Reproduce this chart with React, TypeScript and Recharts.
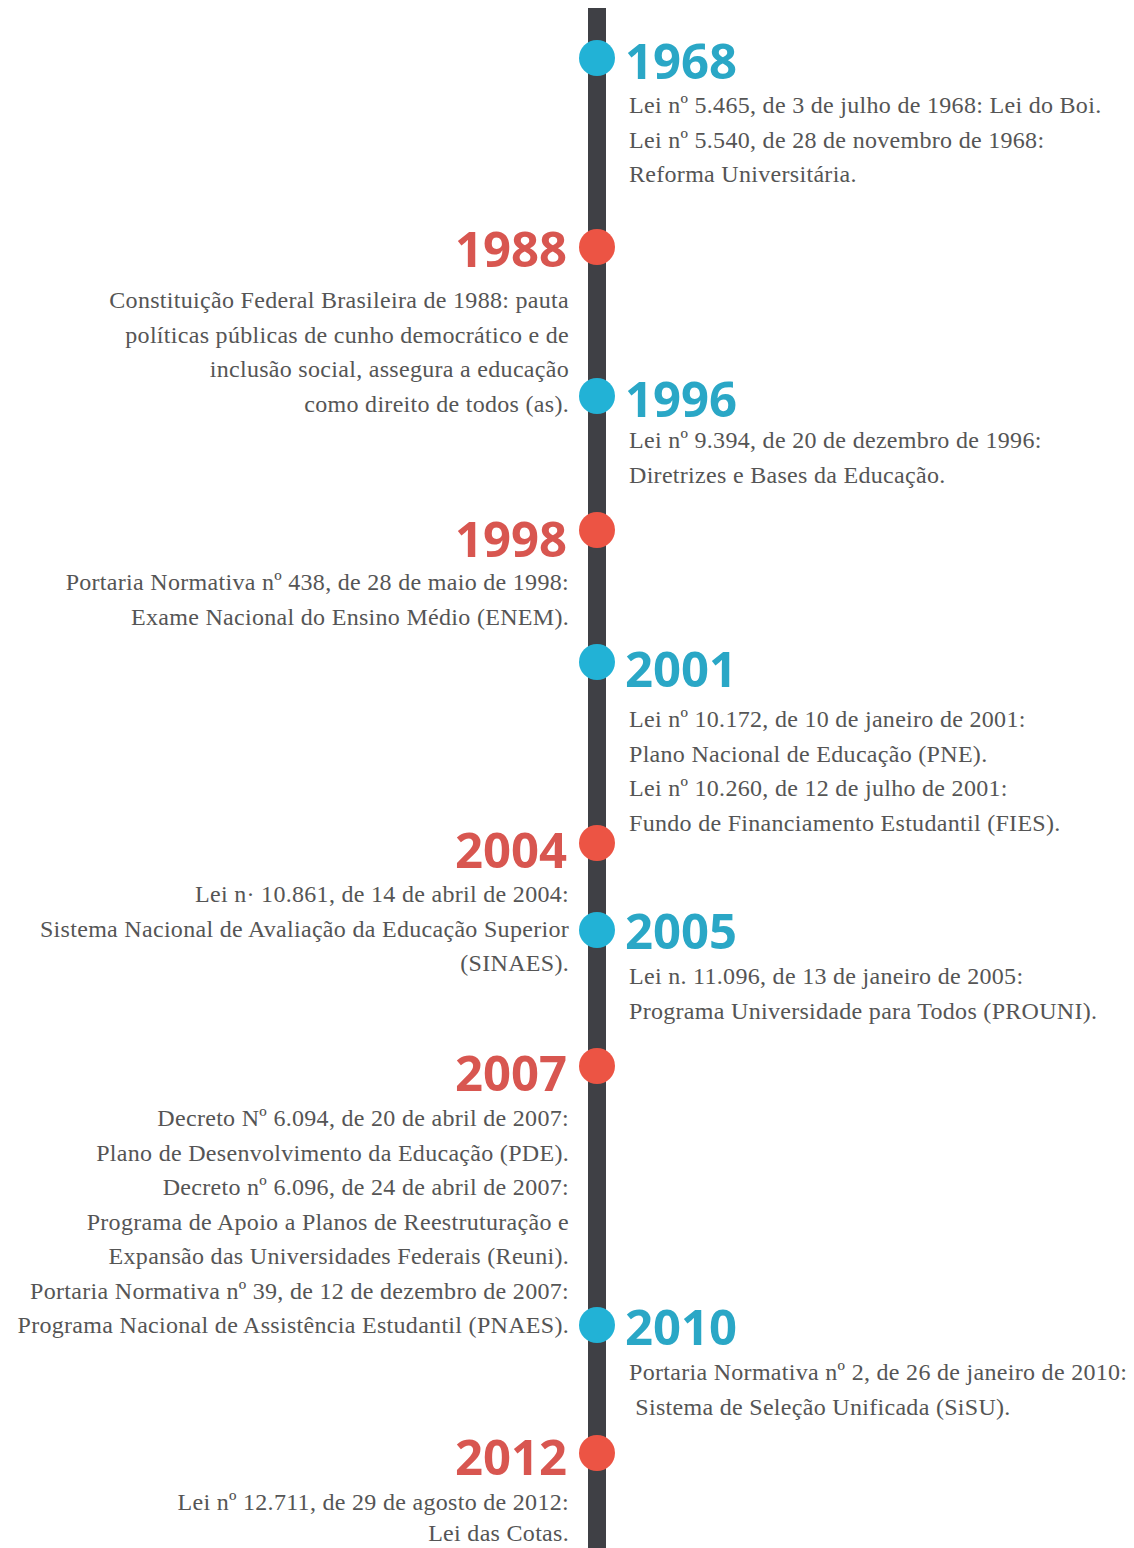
import React from 'react';
import { ScatterChart, Scatter, XAxis, YAxis, ReferenceLine } from 'recharts';

// anos dos marcos, na ordem da linha do tempo
const years = ['1968', '1988', '1996', '1998', '2001', '2004', '2005', '2007', '2010', '2012'];

// posição de cada marco ao longo da linha (de cima para baixo)
const linePos = [58, 247, 396, 530, 662, 843, 930, 1066, 1325, 1453];

const descriptions: string[][] = [
  [
    'Lei nº 5.465, de 3 de julho de 1968: Lei do Boi.',
    'Lei nº 5.540, de 28 de novembro de 1968:',
    'Reforma Universitária.',
  ],
  [
    'Constituição Federal Brasileira de 1988: pauta',
    'políticas públicas de cunho democrático e de',
    'inclusão social, assegura a educação',
    'como direito de todos (as).',
  ],
  [
    'Lei nº 9.394, de 20 de dezembro de 1996:',
    'Diretrizes e Bases da Educação.',
  ],
  [
    'Portaria Normativa nº 438, de 28 de maio de 1998:',
    'Exame Nacional do Ensino Médio (ENEM).',
  ],
  [
    'Lei nº 10.172, de 10 de janeiro de 2001:',
    'Plano Nacional de Educação (PNE).',
    'Lei nº 10.260, de 12 de julho de 2001:',
    'Fundo de Financiamento Estudantil (FIES).',
  ],
  [
    'Lei n· 10.861, de 14 de abril de 2004:',
    'Sistema Nacional de Avaliação da Educação Superior',
    '(SINAES).',
  ],
  [
    'Lei n. 11.096, de 13 de janeiro de 2005:',
    'Programa Universidade para Todos (PROUNI).',
  ],
  [
    'Decreto Nº 6.094, de 20 de abril de 2007:',
    'Plano de Desenvolvimento da Educação (PDE).',
    'Decreto nº 6.096, de 24 de abril de 2007:',
    'Programa de Apoio a Planos de Reestruturação e',
    'Expansão das Universidades Federais (Reuni).',
    'Portaria Normativa nº 39, de 12 de dezembro de 2007:',
    'Programa Nacional de Assistência Estudantil (PNAES).',
  ],
  [
    'Portaria Normativa nº 2, de 26 de janeiro de 2010:',
    ' Sistema de Seleção Unificada (SiSU).',
  ],
  [
    'Lei nº 12.711, de 29 de agosto de 2012:',
    'Lei das Cotas.',
  ],
];

// layout: distância do marco até o ano e até a primeira linha do texto
const yearDrop = [21, 20, 21, 27, 25, 25, 19, 25, 20, 22];
const textDrop = [55, 61, 52, 60, 65, 59, 54, 60, 55, 57];

const BLUE = '#22b2d6';
const BLUE_TEXT = '#2aa7c6';
const RED = '#ec5444';
const RED_TEXT = '#d85650';

const data = years.map((year, i) => ({
  x: 0,
  y: linePos[i],
  year,
  lines: descriptions[i],
  idx: i,
}));

const Milestone = (props: any) => {
  const { cx, cy, payload } = props;
  const i = payload.idx;
  const right = i % 2 === 0;
  const step = i === years.length - 1 ? 31 : 34.5;
  return (
    <g>
      <circle cx={cx} cy={cy} r={18} fill={right ? BLUE : RED} />
      <text
        x={right ? cx + 28 : cx - 30}
        y={cy + yearDrop[i]}
        textAnchor={right ? 'start' : 'end'}
        fontFamily="'Open Sans', sans-serif"
        fontWeight={700}
        fontSize={49}
        fill={right ? BLUE_TEXT : RED_TEXT}
      >
        {payload.year}
      </text>
      {payload.lines.map((line: string, k: number) => (
        <text
          key={k}
          x={right ? cx + 32 : cx - 28}
          y={cy + textDrop[i] + k * step}
          textAnchor={right ? 'start' : 'end'}
          fontFamily="'Liberation Serif', serif"
          fontSize={24}
          letterSpacing={0.3}
          fill="#555"
          style={{ whiteSpace: 'pre' }}
        >
          {line}
        </text>
      ))}
    </g>
  );
};

export default function App() {
  return (
    <div style={{ position: 'absolute', left: 0, top: 0, background: '#fff' }}>
      <ScatterChart width={1134} height={1548} margin={{ top: 0, right: 0, bottom: 0, left: 60 }}>
        <XAxis type="number" dataKey="x" domain={[-1, 1]} hide />
        <YAxis type="number" dataKey="y" domain={[0, 1548]} reversed hide />
        <ReferenceLine
          segment={[{ x: 0, y: 8 }, { x: 0, y: 1548 }]}
          stroke="#3f4045"
          strokeWidth={18}
        />
        <Scatter data={data} shape={<Milestone />} isAnimationActive={false} />
      </ScatterChart>
    </div>
  );
}
